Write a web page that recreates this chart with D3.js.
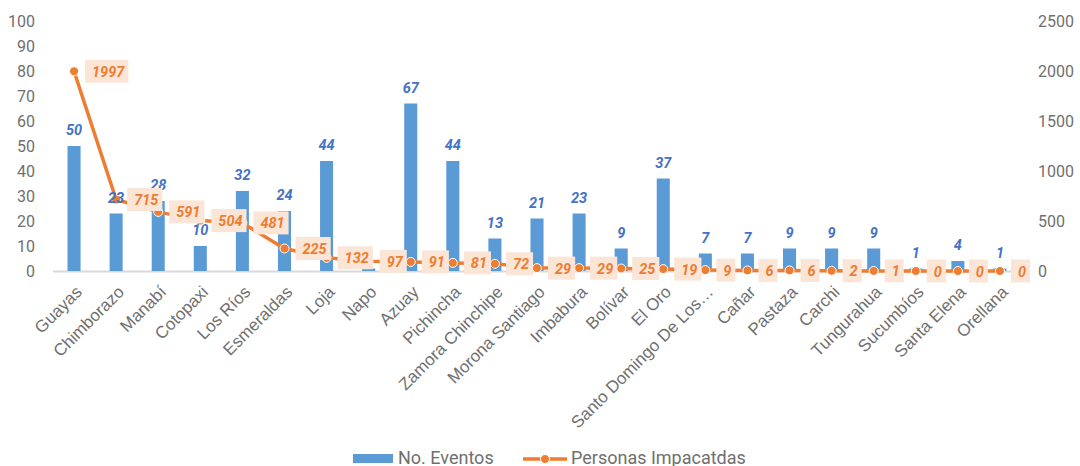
<!DOCTYPE html>
<html>
<head>
<meta charset="utf-8">
<script src="https://cdn.jsdelivr.net/npm/d3@7"></script>
<style>
    html, body { margin: 0; padding: 0; background: #fff; }
    svg { display: block; font-family: Roboto, "Noto Sans", sans-serif; }
</style>
</head>
<body>
<svg id="chart" width="1080" height="466"></svg>
<script>
    const provincias = ['Guayas', 'Chimborazo', 'Manabí', 'Cotopaxi', 'Los Ríos', 'Esmeraldas', 'Loja', 'Napo',
        'Azuay', 'Pichincha', 'Zamora Chinchipe', 'Morona Santiago', 'Imbabura', 'Bolívar', 'El Oro',
        'Santo Domingo De Los…', 'Cañar', 'Pastaza', 'Carchi', 'Tungurahua', 'Sucumbíos', 'Santa Elena', 'Orellana'];
    const eventos = [50, 23, 28, 10, 32, 24, 44, 1, 67, 44, 13, 21, 23, 9, 37, 7, 7, 9, 9, 9, 1, 4, 1];
    const personas = [1997, 715, 591, 504, 481, 225, 132, 97, 91, 81, 72, 29, 29, 25, 19, 9, 6, 6, 2, 1, 0, 0, 0];
    const leftTicks = [0, 10, 20, 30, 40, 50, 60, 70, 80, 90, 100];
    const rightTicks = [0, 500, 1000, 1500, 2000, 2500];
    const seriesNames = ['No. Eventos', 'Personas Impacatdas'];

    const blue = '#5b9bd5';
    const blueText = '#4472c4';
    const orange = '#ed7d31';
    const peach = '#fbe5d6';
    const grey = '#6f6f6f';

    const svg = d3.select('#chart');
    const plot = { left: 53, right: 1021, top: 21, bottom: 271 };

    const x = d3.scaleBand()
        .domain(provincias)
        .range([plot.left, plot.right])
        .paddingInner(0.69)
        .paddingOuter(0.345);

    const yLeft = d3.scaleLinear().domain([0, 100]).range([plot.bottom, plot.top]);
    const yRight = d3.scaleLinear().domain([0, 2500]).range([plot.bottom, plot.top]);
    const cx = d => x(d) + x.bandwidth() / 2;

    // axes
    const leftAxis = svg.append('g')
        .attr('transform', 'translate(35,0)')
        .call(d3.axisLeft(yLeft).tickValues(leftTicks).tickSize(0).tickPadding(0));
    const rightAxis = svg.append('g')
        .attr('transform', 'translate(1038,0)')
        .call(d3.axisRight(yRight).tickValues(rightTicks).tickFormat(d3.format('d')).tickSize(0).tickPadding(0));
    [leftAxis, rightAxis].forEach(a => {
        a.select('.domain').remove();
        a.selectAll('text')
            .attr('fill', grey)
            .style('font-size', '16px')
            .style('font-family', 'Roboto, sans-serif');
    });

    // baseline
    svg.append('line')
        .attr('x1', plot.left).attr('x2', plot.right + 6)
        .attr('y1', plot.bottom + 0.5).attr('y2', plot.bottom + 0.5)
        .attr('stroke', '#d9d9d9').attr('stroke-width', 2);

    // category labels
    const xAxis = svg.append('g')
        .attr('transform', `translate(0,${plot.bottom})`)
        .call(d3.axisBottom(x).tickSize(0).tickPadding(0));
    xAxis.select('.domain').remove();
    xAxis.selectAll('text')
        .attr('fill', grey)
        .style('font-size', '17px')
        .attr('text-anchor', 'end')
        .attr('dy', 0)
        .attr('y', 0)
        .attr('transform', 'translate(9,22) rotate(-45)');

    // bars
    svg.append('g').selectAll('rect')
        .data(provincias)
        .join('rect')
        .attr('x', d => x(d))
        .attr('width', x.bandwidth())
        .attr('y', (d, i) => yLeft(eventos[i]))
        .attr('height', (d, i) => plot.bottom - yLeft(eventos[i]))
        .attr('fill', blue);

    // line
    const line = d3.line()
        .x(d => cx(d))
        .y((d, i) => yRight(personas[i]));
    svg.append('path')
        .datum(provincias)
        .attr('d', line)
        .attr('fill', 'none')
        .attr('stroke', orange)
        .attr('stroke-width', 3.5);

    svg.append('g').selectAll('circle')
        .data(provincias)
        .join('circle')
        .attr('cx', d => cx(d))
        .attr('cy', (d, i) => yRight(personas[i]))
        .attr('r', 4.5)
        .attr('fill', orange)
        .attr('stroke', '#fff')
        .attr('stroke-width', 1);

    // bar labels
    svg.append('g').selectAll('text')
        .data(provincias)
        .join('text')
        .attr('x', d => cx(d))
        .attr('y', (d, i) => yLeft(eventos[i]) - 11)
        .attr('text-anchor', 'middle')
        .attr('fill', blueText)
        .style('font-size', '14.5px')
        .style('font-weight', 'bold')
        .style('font-style', 'italic')
        .text((d, i) => eventos[i]);

    // line labels with peach boxes
    const lbl = svg.append('g').selectAll('g')
        .data(provincias)
        .join('g')
        .attr('transform', (d, i) => `translate(${cx(d) + 11},${yRight(personas[i])})`);
    const lblText = lbl.append('text')
        .attr('x', 7)
        .attr('y', 5.5)
        .attr('fill', orange)
        .style('font-size', '14.5px')
        .style('font-weight', 'bold')
        .style('font-style', 'italic')
        .text((d, i) => personas[i]);
    lblText.each(function () {
        const w = this.getComputedTextLength();
        d3.select(this.parentNode).insert('rect', 'text')
            .attr('x', 0).attr('y', -11.5)
            .attr('width', w + 11).attr('height', 23)
            .attr('fill', peach);
    });

    // legend
    const legend = svg.append('g');
    legend.append('rect')
        .attr('x', 353).attr('y', 454).attr('width', 40).attr('height', 9)
        .attr('fill', blue);
    legend.append('text')
        .attr('x', 398).attr('y', 464)
        .attr('fill', grey).style('font-size', '18px')
        .text(seriesNames[0]);
    legend.append('line')
        .attr('x1', 523).attr('x2', 567).attr('y1', 459).attr('y2', 459)
        .attr('stroke', orange).attr('stroke-width', 3.5);
    legend.append('circle')
        .attr('cx', 545).attr('cy', 459).attr('r', 4.5)
        .attr('fill', orange).attr('stroke', '#fff').attr('stroke-width', 1);
    legend.append('text')
        .attr('x', 571).attr('y', 464)
        .attr('fill', grey).style('font-size', '18px')
        .text(seriesNames[1]);
</script>
</body>
</html>
